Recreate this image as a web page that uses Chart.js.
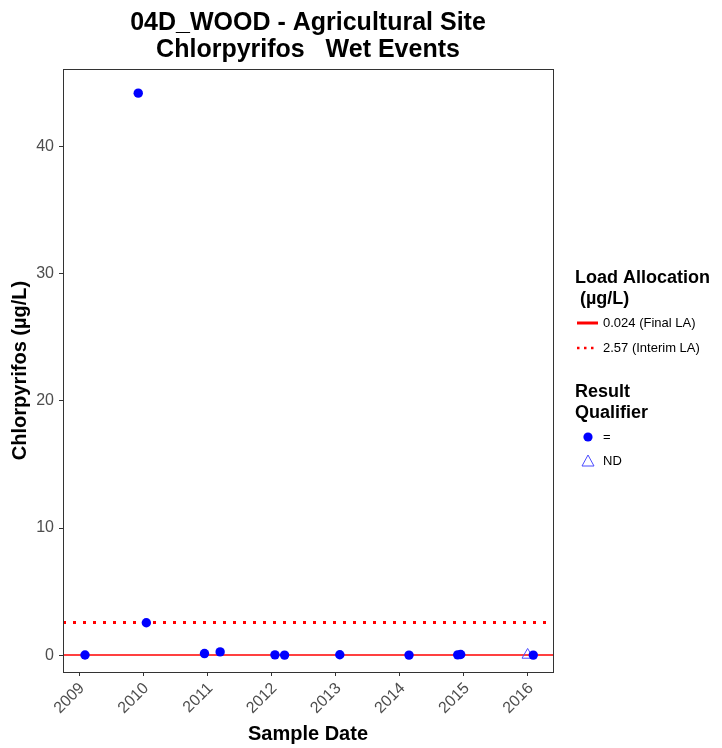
<!DOCTYPE html>
<html>
<head>
<meta charset="utf-8">
<script src="https://cdn.jsdelivr.net/npm/chart.js@4.4.1/dist/chart.umd.min.js"></script>
<style>
    html, body { margin: 0; padding: 0; background: #fff; }
    #wrap { width: 722px; height: 748px; }
</style>
</head>
<body>
<div id="wrap"><canvas id="chart"></canvas></div>
<script>
// --- Data ---
const sampleDates = [
    '2009-02-04', '2009-12-04', '2010-01-19', '2010-12-16', '2011-03-15',
    '2012-01-21', '2012-03-16', '2013-01-25', '2014-02-23', '2014-11-27',
    '2014-12-14', '2016-01-31'
];
const sampleValues = [0.02, 44.2, 2.55, 0.13, 0.26, 0.03, 0.01, 0.04, 0.01, 0.03, 0.06, 0.01];

const ndDates = ['2015-12-30'];
const ndValues = [0.02];

const finalLA = 0.024;
const interimLA = 2.57;

const yearTicks = [2009, 2010, 2011, 2012, 2013, 2014, 2015, 2016];
const valueTicks = [0, 10, 20, 30, 40];

const X_MIN = 2008.75;
const X_MAX = 2016.39;

const FONT = '"Liberation Sans", Arial, sans-serif';

// date string -> decimal year
function toYear(s) {
    const [y, m, d] = s.split('-').map(Number);
    const t = Date.UTC(y, m - 1, d);
    const start = Date.UTC(y, 0, 1);
    const end = Date.UTC(y + 1, 0, 1);
    return y + (t - start) / (end - start);
}

const points = sampleDates.map((d, i) => ({ x: toYear(d), y: sampleValues[i] }));
const ndPoints = ndDates.map((d, i) => ({ x: toYear(d), y: ndValues[i] }));

// --- Plugins: panel border + custom legend ---
const panelBorder = {
    id: 'panelBorder',
    afterDatasetsDraw(chart) {
        const { ctx, chartArea: a } = chart;
        ctx.save();
        ctx.strokeStyle = '#333333';
        ctx.lineWidth = 1;
        ctx.strokeRect(Math.round(a.left) + 0.5, Math.round(a.top) + 0.5,
            Math.round(a.right - a.left), Math.round(a.bottom - a.top));
        ctx.restore();
    }
};

const sideLegend = {
    id: 'sideLegend',
    afterDraw(chart) {
        const ctx = chart.ctx;
        const x = 575;
        ctx.save();
        ctx.fillStyle = '#000';
        ctx.textAlign = 'left';
        ctx.textBaseline = 'alphabetic';
        ctx.font = 'bold 18px ' + FONT;
        ctx.fillText('Load Allocation', x, 283);
        ctx.fillText(' (\u00b5g/L)', x, 304);

        // solid final LA
        ctx.strokeStyle = '#ff0000';
        ctx.lineWidth = 3;
        ctx.beginPath();
        ctx.moveTo(577, 323);
        ctx.lineTo(598, 323);
        ctx.stroke();

        // dotted interim LA
        ctx.lineWidth = 2.5;
        ctx.setLineDash([2.5, 4.5]);
        ctx.beginPath();
        ctx.moveTo(577, 348);
        ctx.lineTo(598, 348);
        ctx.stroke();
        ctx.setLineDash([]);

        ctx.font = '13px ' + FONT;
        ctx.textBaseline = 'middle';
        ctx.fillText('0.024 (Final LA)', 603, 323);
        ctx.fillText('2.57 (Interim LA)', 603, 348);

        ctx.textBaseline = 'alphabetic';
        ctx.font = 'bold 18px ' + FONT;
        ctx.fillText('Result', x, 397);
        ctx.fillText('Qualifier', x, 418);

        ctx.fillStyle = '#0000ff';
        ctx.beginPath();
        ctx.arc(588, 437, 4.6, 0, Math.PI * 2);
        ctx.fill();

        ctx.strokeStyle = '#4a4aff';
        ctx.lineWidth = 1;
        ctx.beginPath();
        ctx.moveTo(588, 455);
        ctx.lineTo(594, 466);
        ctx.lineTo(582, 466);
        ctx.closePath();
        ctx.stroke();

        ctx.fillStyle = '#000';
        ctx.font = '13px ' + FONT;
        ctx.textBaseline = 'middle';
        ctx.fillText('=', 603, 437);
        ctx.fillText('ND', 603, 461);
        ctx.restore();
    }
};

// --- Chart ---
new Chart(document.getElementById('chart'), {
    type: 'scatter',
    data: {
        datasets: [
            {
                label: '=',
                data: points,
                backgroundColor: '#0000ff',
                borderWidth: 0,
                pointRadius: 4.7,
                order: 0
            },
            {
                label: 'ND',
                data: ndPoints,
                pointStyle: 'triangle',
                backgroundColor: 'rgba(0,0,0,0)',
                borderColor: '#4a4aff',
                borderWidth: 1,
                pointRadius: 6.5,
                order: 0
            },
            {
                label: '0.024 (Final LA)',
                type: 'line',
                data: [{ x: X_MIN, y: finalLA }, { x: X_MAX, y: finalLA }],
                borderColor: '#ff0000',
                borderWidth: 1.5,
                pointRadius: 0,
                order: 2
            },
            {
                label: '2.57 (Interim LA)',
                type: 'line',
                data: [{ x: X_MIN, y: interimLA }, { x: X_MAX, y: interimLA }],
                borderColor: '#ff0000',
                borderWidth: 3,
                borderDash: [3, 7],
                borderCapStyle: 'butt',
                pointRadius: 0,
                order: 2
            }
        ]
    },
    options: {
        responsive: true,
        maintainAspectRatio: false,
        animation: false,
        layout: { padding: { top: 0, right: 169, bottom: 0, left: 0 } },
        plugins: {
            legend: { display: false },
            tooltip: { enabled: false },
            title: {
                display: true,
                fullSize: false,
                text: ['04D_WOOD - Agricultural Site', 'Chlorpyrifos   Wet Events'],
                color: '#000',
                font: { family: FONT, size: 25, weight: 'bold', lineHeight: 1.08 },
                padding: { top: 10, bottom: 5 }
            }
        },
        scales: {
            x: {
                type: 'linear',
                min: X_MIN,
                max: X_MAX,
                afterBuildTicks: (scale) => { scale.ticks = yearTicks.map(v => ({ value: v })); },
                afterFit: (scale) => { scale.height = 76; },
                border: { display: false },
                grid: { drawOnChartArea: false, drawTicks: true, tickLength: 4, color: '#333333' },
                ticks: {
                    callback: (v) => String(v),
                    minRotation: 45,
                    maxRotation: 45,
                    padding: 3,
                    labelOffset: 3,
                    color: '#4d4d4d',
                    font: { family: FONT, size: 16 }
                },
                title: {
                    display: true,
                    text: 'Sample Date',
                    color: '#000',
                    font: { family: FONT, size: 20, weight: 'bold', lineHeight: 1.2 },
                    padding: { top: 0, bottom: 2 }
                }
            },
            y: {
                min: -1.32,
                max: 46.1,
                afterBuildTicks: (scale) => { scale.ticks = valueTicks.map(v => ({ value: v })); },
                afterFit: (scale) => { scale.width = 63; },
                border: { display: false },
                grid: { drawOnChartArea: false, drawTicks: true, tickLength: 4, color: '#333333' },
                ticks: {
                    callback: (v) => String(v),
                    padding: 5,
                    color: '#4d4d4d',
                    font: { family: FONT, size: 16 }
                },
                title: {
                    display: true,
                    text: 'Chlorpyrifos (\u00b5g/L)',
                    color: '#000',
                    font: { family: FONT, size: 20, weight: 'bold', lineHeight: 1.2 },
                    padding: { top: 8, bottom: 0 }
                }
            }
        }
    },
    plugins: [panelBorder, sideLegend]
});
</script>
</body>
</html>
